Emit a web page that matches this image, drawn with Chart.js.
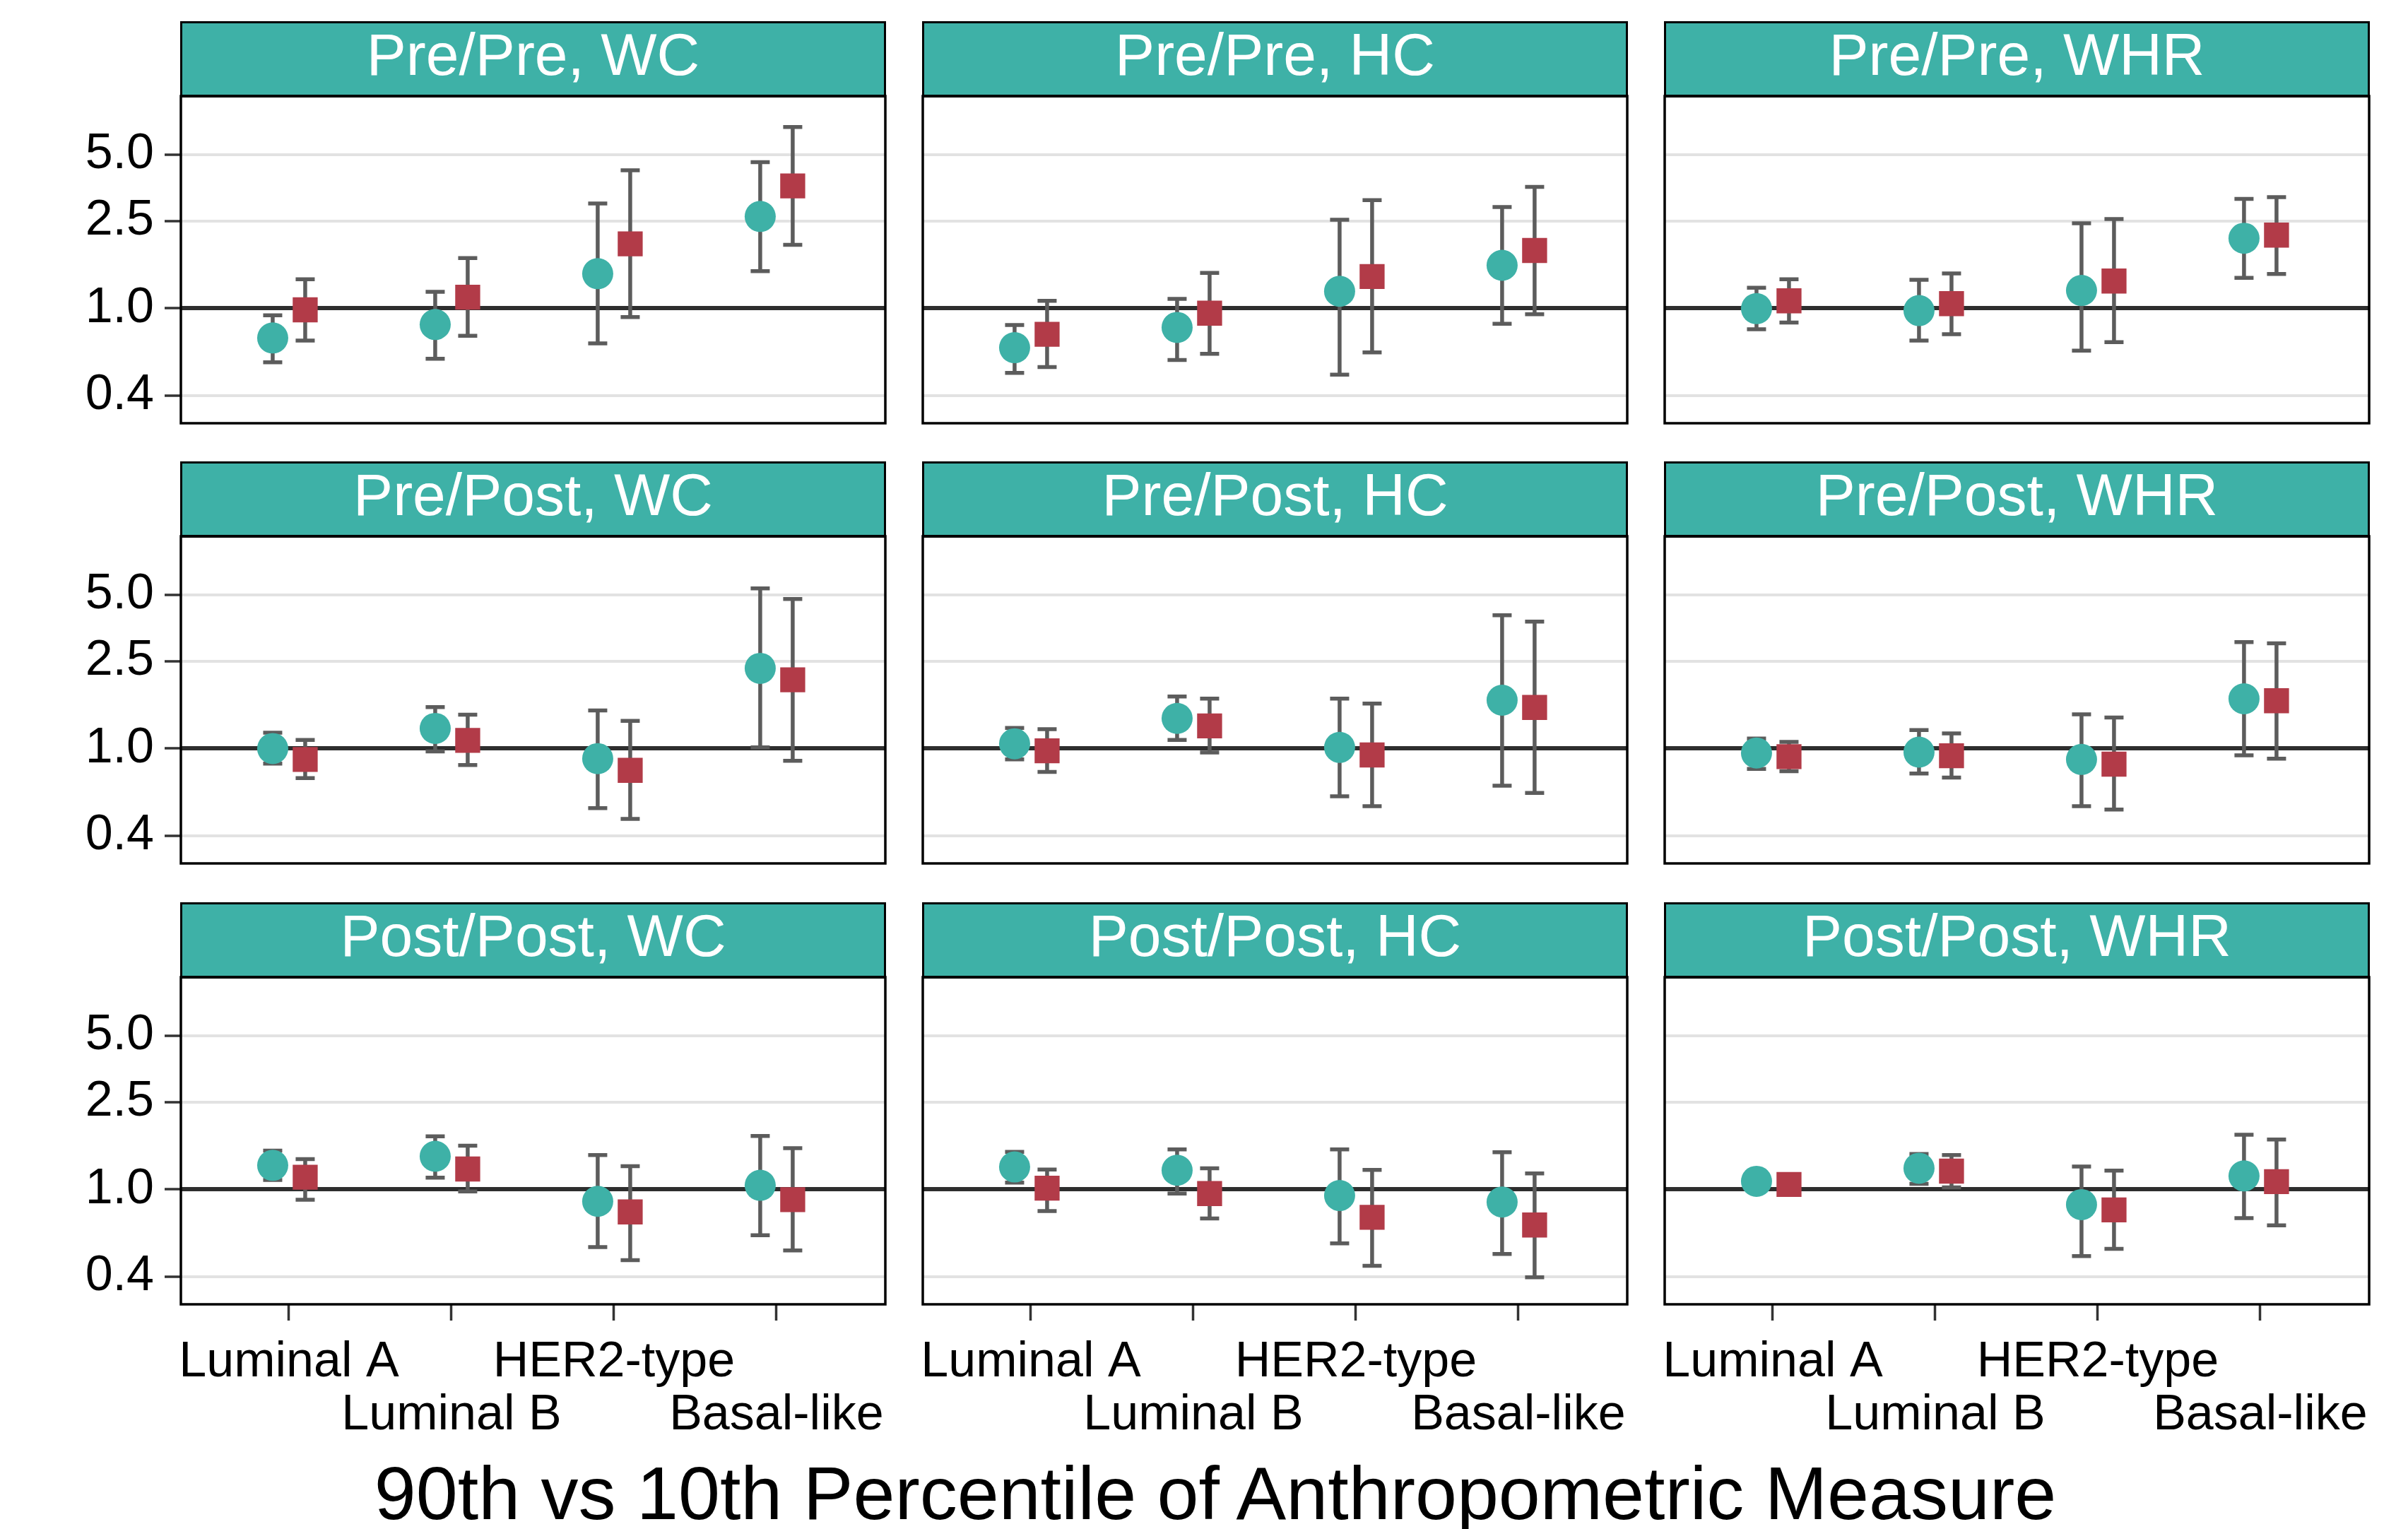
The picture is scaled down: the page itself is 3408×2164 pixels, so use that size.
<!DOCTYPE html>
<html>
<head>
<meta charset="utf-8">
<script src="https://cdn.jsdelivr.net/npm/chart.js@4.4.1/dist/chart.umd.min.js"></script>
<style>
  body { margin: 0; background: #fff; width: 3408px; height: 2164px; position: relative; overflow: hidden;
         font-family: "Liberation Sans", Arial, sans-serif; }
  .strip { position: absolute; background: #3eb1a7; border: 3px solid #000; border-bottom-width: 4px; box-sizing: border-box; color: #fff;
           font-size: 84px; display: flex; align-items: center; justify-content: center; padding-bottom: 12px; white-space: nowrap; }
  canvas { position: absolute; }
  .xtitle { position: absolute; left: 1720px; top: 2113px; transform: translate(-50%, -50%); font-size: 106px;
            line-height: 1; color: #000; white-space: nowrap; }
</style>
</head>
<body>
<div class="xtitle">90th vs 10th Percentile of Anthropometric Measure</div>
<script>
const categories = ['Luminal A', 'Luminal B', 'HER2-type', 'Basal-like'];
const panelTitles = ['Pre/Pre, WC', 'Pre/Pre, HC', 'Pre/Pre, WHR',
                     'Pre/Post, WC', 'Pre/Post, HC', 'Pre/Post, WHR',
                     'Post/Post, WC', 'Post/Post, HC', 'Post/Post, WHR'];
const yTicks = [0.4, 1.0, 2.5, 5.0];

// teal circles (one row per panel, one value per category)
const tealEst = [
  [0.733, 0.844, 1.438, 2.62],
  [0.662, 0.819, 1.196, 1.57],
  [0.997, 0.977, 1.206, 2.085],
  [1.0, 1.235, 0.90, 2.318],
  [1.051, 1.372, 1.012, 1.66],
  [0.954, 0.963, 0.892, 1.684],
  [1.287, 1.415, 0.883, 1.044],
  [1.266, 1.223, 0.938, 0.876],
  [1.089, 1.249, 0.853, 1.152]
];
const tealLo = [
  [0.568, 0.59, 0.693, 1.476],
  [0.508, 0.582, 0.499, 0.851],
  [0.803, 0.714, 0.642, 1.376],
  [0.854, 0.971, 0.536, 1.012],
  [0.892, 1.095, 0.606, 0.677],
  [0.808, 0.77, 0.547, 0.932],
  [1.104, 1.132, 0.547, 0.619],
  [1.075, 0.958, 0.568, 0.508],
  [1.04, 1.06, 0.497, 0.741]
];
const tealHi = [
  [0.93, 1.19, 3.0, 4.63],
  [0.839, 1.105, 2.53, 2.89],
  [1.242, 1.348, 2.44, 3.15],
  [1.18, 1.543, 1.49, 5.36],
  [1.242, 1.724, 1.689, 4.04],
  [1.111, 1.213, 1.43, 3.05],
  [1.502, 1.745, 1.433, 1.752],
  [1.483, 1.521, 1.521, 1.476],
  [1.14, 1.45, 1.271, 1.775]
];

// red squares
const redEst = [
  [0.985, 1.124, 1.967, 3.61],
  [0.762, 0.951, 1.396, 1.834],
  [1.082, 1.051, 1.332, 2.154],
  [0.892, 1.089, 0.796, 2.055],
  [0.977, 1.268, 0.935, 1.538],
  [0.919, 0.927, 0.849, 1.651],
  [1.137, 1.239, 0.79, 0.898],
  [1.013, 0.958, 0.747, 0.689],
  [1.053, 1.212, 0.807, 1.085]
];
const redLo = [
  [0.714, 0.75, 0.913, 1.945],
  [0.541, 0.621, 0.63, 0.94],
  [0.861, 0.762, 0.702, 1.434],
  [0.733, 0.841, 0.478, 0.879],
  [0.782, 0.96, 0.547, 0.628],
  [0.789, 0.737, 0.528, 0.9],
  [0.898, 0.979, 0.477, 0.528],
  [0.797, 0.738, 0.449, 0.398],
  [1.01, 1.022, 0.537, 0.686]
];
const redHi = [
  [1.356, 1.694, 4.25, 6.69],
  [1.082, 1.45, 3.11, 3.57],
  [1.356, 1.443, 2.55, 3.21],
  [1.095, 1.426, 1.337, 4.79],
  [1.224, 1.689, 1.603, 3.78],
  [1.073, 1.171, 1.384, 3.01],
  [1.373, 1.581, 1.276, 1.541],
  [1.233, 1.249, 1.228, 1.182],
  [1.10, 1.433, 1.218, 1.686]
];

const TEAL = '#3eb1a7';
const RED = '#b23b48';
const FONT = '"Liberation Sans", Arial, sans-serif';

// layout of the facet grid
const colLeft = [256, 1306, 2356];
const plotW = 997;
const stripTop = [30, 653, 1277];
const stripH = 106;
const plotH = 463;
const m = 10;

// error bars under the points + panel border on top
const facetDecor = {
  id: 'facetDecor',
  beforeDatasetsDraw(chart) {
    const { ctx, scales: { x, y } } = chart;
    ctx.save();
    ctx.strokeStyle = '#5c5c5c';
    ctx.lineWidth = 5.5;
    chart.data.datasets.forEach(ds => ds.data.forEach(pt => {
      const px = x.getPixelForValue(pt.x);
      const top = y.getPixelForValue(pt.hi);
      const bot = y.getPixelForValue(pt.lo);
      ctx.beginPath();
      ctx.moveTo(px, top); ctx.lineTo(px, bot);
      ctx.moveTo(px - 13.5, top); ctx.lineTo(px + 13.5, top);
      ctx.moveTo(px - 13.5, bot); ctx.lineTo(px + 13.5, bot);
      ctx.stroke();
    }));
    ctx.restore();
  },
  afterDraw(chart) {
    const { ctx, chartArea: a } = chart;
    ctx.save();
    ctx.strokeStyle = '#000';
    ctx.lineWidth = 3.5;
    ctx.strokeRect(a.left, a.top, a.right - a.left, a.bottom - a.top);
    ctx.restore();
  }
};

function points(est, lo, hi, shift) {
  return categories.map((_, i) => ({ x: i + shift, y: est[i], lo: lo[i], hi: hi[i] }));
}

panelTitles.forEach((title, p) => {
  const r = Math.floor(p / 3), c = p % 3;
  const plotTop = stripTop[r] + stripH;
  const yW = c === 0 ? 256 : 0;
  const xH = r === 2 ? 200 : 0;

  const strip = document.createElement('div');
  strip.className = 'strip';
  strip.textContent = title;
  Object.assign(strip.style, {
    left: (colLeft[c] - 1) + 'px', top: stripTop[r] + 'px',
    width: (plotW + 2) + 'px', height: (stripH + 2) + 'px'
  });
  document.body.appendChild(strip);

  const canvas = document.createElement('canvas');
  canvas.width = plotW + yW + 2 * m;
  canvas.height = plotH + xH + 2 * m;
  canvas.style.left = (colLeft[c] - yW - m) + 'px';
  canvas.style.top = (plotTop - m) + 'px';
  document.body.appendChild(canvas);

  new Chart(canvas, {
    type: 'scatter',
    data: {
      datasets: [
        {
          label: 'Circle',
          data: points(tealEst[p], tealLo[p], tealHi[p], -0.1),
          pointStyle: 'circle',
          pointRadius: 22,
          backgroundColor: TEAL,
          borderWidth: 0
        },
        {
          label: 'Square',
          data: points(redEst[p], redLo[p], redHi[p], 0.1),
          pointStyle: 'rect',
          pointRadius: 25,
          backgroundColor: RED,
          borderWidth: 0
        }
      ]
    },
    options: {
      responsive: false,
      animation: false,
      devicePixelRatio: 1,
      events: [],
      layout: { padding: m, autoPadding: false },
      plugins: { legend: { display: false }, tooltip: { enabled: false } },
      scales: {
        x: {
          type: 'linear',
          display: r === 2,
          min: -0.665,
          max: 3.67,
          afterBuildTicks: axis => { axis.ticks = categories.map((_, i) => ({ value: i })); },
          afterFit: axis => { axis.height = xH; axis.paddingLeft = 0; axis.paddingRight = 0; },
          border: { display: false },
          grid: { drawOnChartArea: false, drawTicks: true, tickLength: 23, tickColor: '#333', tickWidth: 3.5 },
          ticks: {
            autoSkip: false,
            maxRotation: 0,
            padding: 22,
            color: '#000',
            font: { family: FONT, size: 70, lineHeight: 1.07 },
            callback: (v, i) => i % 2 ? ['', categories[i]] : categories[i]
          }
        },
        y: {
          type: 'logarithmic',
          min: 0.3036,
          max: 9.25,
          afterBuildTicks: axis => { axis.ticks = yTicks.map(v => ({ value: v })); },
          afterFit: axis => { axis.width = yW; axis.paddingTop = 0; axis.paddingBottom = 0; },
          border: { display: false },
          grid: {
            color: ctx => ctx.tick && ctx.tick.value === 1 ? '#2e2e2e' : '#e2e2e2',
            lineWidth: ctx => ctx.tick && ctx.tick.value === 1 ? 6 : 4,
            drawTicks: c === 0,
            tickLength: 23,
            tickColor: '#333',
            tickWidth: 3.5
          },
          ticks: {
            display: c === 0,
            padding: 15,
            color: '#000',
            font: { family: FONT, size: 70 },
            callback: v => Number(v).toFixed(1)
          }
        }
      }
    },
    plugins: [facetDecor]
  });
});
</script>
</body>
</html>
